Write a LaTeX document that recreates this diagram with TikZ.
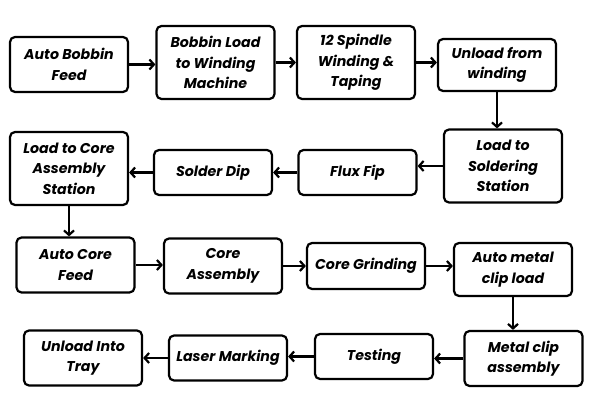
\documentclass[tikz,border=0pt]{standalone}
\usepackage{fontspec}
\setmainfont{Poppins}
\usetikzlibrary{arrows.meta,positioning}

\begin{document}
\begin{tikzpicture}[x=1pt,y=1pt,on grid,>={Straight Barb[length=4.5pt,width=10pt]},
line width=2.2pt,
every node/.style={font=\fontsize{14.2}{20.5}\selectfont\bfseries\itshape},
stage/.style={draw,rounded corners=5pt,minimum width=118pt,align=center,inner sep=0pt},
tall/.style={stage,minimum height=73pt},
mid/.style={stage,minimum height=55pt},
low/.style={stage,minimum height=45pt}]

\useasboundingbox (0,0) rectangle (595,-409);

\node[mid](feed) at (69,-64.5) {Auto Bobbin\\Feed};
\node[tall](bobbin) [above right=2pt and 146.5pt of feed] {Bobbin Load\\to Winding\\Machine};
\node[tall](spindle) [right=140.5pt of bobbin] {12 Spindle\\Winding \&\\Taping};
\node[stage,minimum height=52pt](unload) [below right=2.5pt and 141pt of spindle] {Unload from\\winding};
\node[tall](loadsolder) [below right=101pt and 6pt of unload] {Load to\\Soldering\\Station};
\node[low](flux) [below left=6.5pt and 145.5pt of loadsolder] {Flux Fip};
\node[low](solder) [left=144.5pt of flux] {Solder Dip};
\node[tall](loadcore) [above left=4pt and 144pt of solder] {Load to Core\\Assembly\\Station};
\node[mid](corefeed) [below right=96.5pt and 6.5pt of loadcore] {Auto Core\\Feed};
\node[mid](coreasm) [below right=1pt and 147.5pt of corefeed] {Core\\Assembly};
\node[stage,minimum height=46pt](grinding) [right=143pt of coreasm] {Core Grinding};
\node[stage,minimum height=53pt](clipload) [below right=3.5pt and 147pt of grinding] {Auto metal\\clip load};
\node[mid](clipasm) [below right=89pt and 10.5pt of clipload] {Metal clip\\assembly};
\node[low](testing) [above left=2pt and 149.5pt of clipasm] {Testing};
\node[low](laser) [below left=1.5pt and 146pt of testing] {Laser Marking};
\node[mid](tray) [left=145pt of laser] {Unload Into\\Tray};

\path[->]
  (feed) edge (feed -| bobbin.west)
  (bobbin) edge (bobbin -| spindle.west)
  (spindle) edge (spindle -| unload.west)
  (unload) edge (unload |- loadsolder.north)
  (loadsolder) edge (loadsolder -| flux.east)
  (flux) edge (flux -| solder.east)
  (solder) edge (solder -| loadcore.east)
  (loadcore) edge (loadcore |- corefeed.north)
  (corefeed) edge (corefeed -| coreasm.west)
  (coreasm) edge (coreasm -| grinding.west)
  (grinding) edge (grinding -| clipload.west)
  (clipload) edge (clipload |- clipasm.north)
  (clipasm) edge (clipasm -| testing.east)
  (testing) edge (testing -| laser.east)
  (laser) edge (laser -| tray.east);

\end{tikzpicture}
\end{document}
